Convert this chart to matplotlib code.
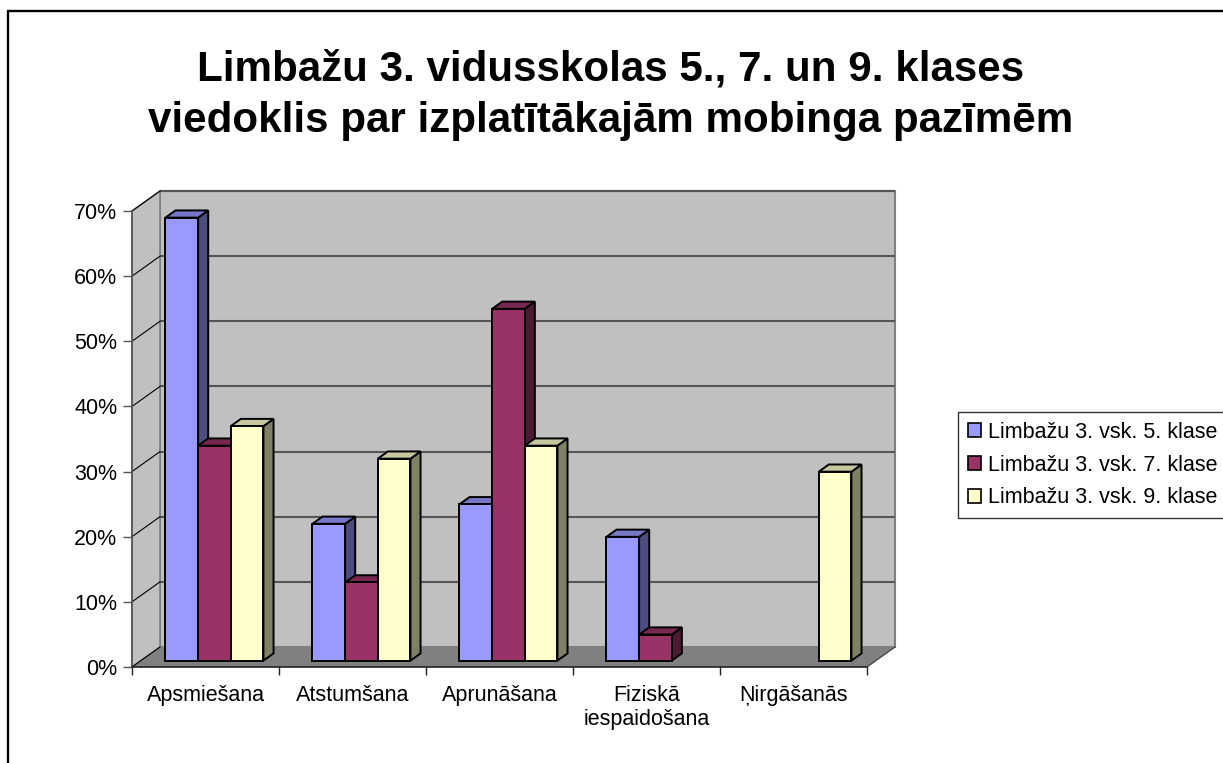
import matplotlib
matplotlib.use("Agg")
import matplotlib.pyplot as plt
from matplotlib.patches import Polygon, Rectangle, Patch
from matplotlib.colors import to_rgb

plt.rcParams["font.family"] = ["Liberation Sans", "DejaVu Sans"]

# ── data ─────────────────────────────────────
TITLE = ("Limbažu 3. vidusskolas 5., 7. un 9. klases\n"
         "viedoklis par izplatītākajām mobinga pazīmēm")
CATEGORIES = ["Apsmiešana", "Atstumšana", "Aprunāšana",
              "Fiziskā\niespaidošana", "Ņirgāšanās"]
SERIES = ["Limbažu 3. vsk. 5. klase",
          "Limbažu 3. vsk. 7. klase",
          "Limbažu 3. vsk. 9. klase"]
VALUES_5 = [0.68, 0.21, 0.24, 0.19, 0.0]
VALUES_7 = [0.33, 0.12, 0.54, 0.04, 0.0]
VALUES_9 = [0.36, 0.31, 0.33, 0.0, 0.29]
Y_TICKS = [0.0, 0.1, 0.2, 0.3, 0.4, 0.5, 0.6, 0.7]

COLORS = ["#9999FF", "#993366", "#FFFFCC"]

# ── fake 3-D geometry (oblique projection) ──
W_PX, H_PX = 1223, 763
AX_L, AX_R, AX_T, AX_B = 132, 867, 211, 667
YMAX = 0.7
DX = 28 / ((AX_R - AX_L) / len(CATEGORIES))   # depth in category units
DY = YMAX * 20 / (AX_B - AX_T)                # depth in value units
F0, F1 = 0.32, 0.68                           # bar front/back depth
BAR_W = 1 / 4.5                               # gap width 150 %
GAP = (1 - 3 * BAR_W) / 2


def proj(x, y, z):
    return (x + z * DX, y + z * DY)


def shade(color, k):
    r, g, b = to_rgb(color)
    return (r * k, g * k, b * k)


fig = plt.figure(figsize=(W_PX / 100, H_PX / 100), dpi=100)
ax = fig.add_axes([AX_L / W_PX, 1 - AX_B / H_PX,
                   (AX_R - AX_L) / W_PX, (AX_B - AX_T) / H_PX])
ax.set_xlim(0, len(CATEGORIES))
ax.set_ylim(0, YMAX)
ax.patch.set_visible(False)

n = len(CATEGORIES)

# walls and floor
ax.add_patch(Rectangle((DX, DY), n, YMAX, facecolor="#C0C0C0",
                       edgecolor="#808080", lw=1.5, zorder=0.5, clip_on=False))
ax.add_patch(Polygon([(0, 0), (DX, DY), (DX, YMAX + DY), (0, YMAX)],
                     facecolor="#C0C0C0", edgecolor="#808080", lw=1.2,
                     zorder=0.5, clip_on=False))
ax.add_patch(Polygon([(0, 0), (n, 0), (n + DX, DY), (DX, DY)],
                     facecolor="#808080", edgecolor="none",
                     zorder=0.7, clip_on=False))

for v in Y_TICKS:
    if v > 0:
        ax.plot([DX, n + DX], [v + DY, v + DY], color="#555555", lw=1.5,
                zorder=0.6, clip_on=False, solid_capstyle="butt")
    ax.plot([0, DX], [v, v + DY], color="black", lw=0.8,
            zorder=0.8, clip_on=False)
ax.plot([n, n + DX], [0, DY], color="#404040", lw=0.9, zorder=0.8,
        clip_on=False)

# bars
for s, vals in enumerate([VALUES_5, VALUES_7, VALUES_9]):
    col = COLORS[s]
    for i, v in enumerate(vals):
        if v <= 0:
            continue
        z = 3 + s * 0.1
        x0 = i + GAP + s * BAR_W
        x1 = x0 + BAR_W
        side = [proj(x1, 0, F0), proj(x1, 0, F1), proj(x1, v, F1), proj(x1, v, F0)]
        top = [proj(x0, v, F0), proj(x1, v, F0), proj(x1, v, F1), proj(x0, v, F1)]
        ax.add_patch(Polygon(side, facecolor=shade(col, 0.5), edgecolor="black",
                             lw=1.4, zorder=z, clip_on=False))
        ax.add_patch(Polygon(top, facecolor=shade(col, 0.78), edgecolor="black",
                             lw=1.4, zorder=z, clip_on=False))
        ax.bar(x0 + F0 * DX, v, width=BAR_W, bottom=F0 * DY, align="edge",
               color=col, edgecolor="black", lw=1.4, zorder=z + 0.01,
               clip_on=False)

# axes
for sp in ("top", "right"):
    ax.spines[sp].set_visible(False)
ax.spines["left"].set_color("#555555")
ax.spines["left"].set_linewidth(1.2)
ax.spines["bottom"].set_color("#222222")
ax.spines["bottom"].set_linewidth(1.2)
ax.spines["left"].set_zorder(2)
ax.spines["bottom"].set_zorder(2)

ax.set_yticks(Y_TICKS)
ax.set_yticklabels([f"{round(v * 100)}%" for v in Y_TICKS])
ax.tick_params(axis="y", direction="out", length=6.5, width=1.0,
               color="#555555", pad=4, labelsize=15.5)

ax.set_xticks(range(n + 1))
ax.set_xticklabels([])
ax.set_xticks([i + 0.5 for i in range(n)], minor=True)
ax.set_xticklabels(CATEGORIES, minor=True)
ax.tick_params(axis="x", which="major", direction="out", length=6,
               width=1.0, color="#222222")
ax.tick_params(axis="x", which="minor", length=0, pad=13, labelsize=15.5)

# title
fig.text(0.499, 1 - 95 / H_PX, TITLE, ha="center", va="center",
         fontsize=30.3, fontweight="bold", linespacing=1.38)

# legend
handles = [Patch(facecolor=c, edgecolor="black", lw=1.2) for c in COLORS]
leg = fig.legend(handles, SERIES, loc="upper left",
                 bbox_to_anchor=(958 / W_PX, 1 - 412 / H_PX),
                 fontsize=15.5, frameon=True, fancybox=False,
                 edgecolor="black", handlelength=0.6, handleheight=0.6,
                 handletextpad=0.35, borderpad=0.45, labelspacing=0.55,
                 borderaxespad=0)
leg.get_frame().set_linewidth(1.0)

# chart border
fig.patches.append(Rectangle((8 / W_PX, -0.2), 2, 1.2 - 11 / H_PX,
                             transform=fig.transFigure, fill=False,
                             edgecolor="black", lw=1.7))

fig.savefig("out.png", dpi=100)
